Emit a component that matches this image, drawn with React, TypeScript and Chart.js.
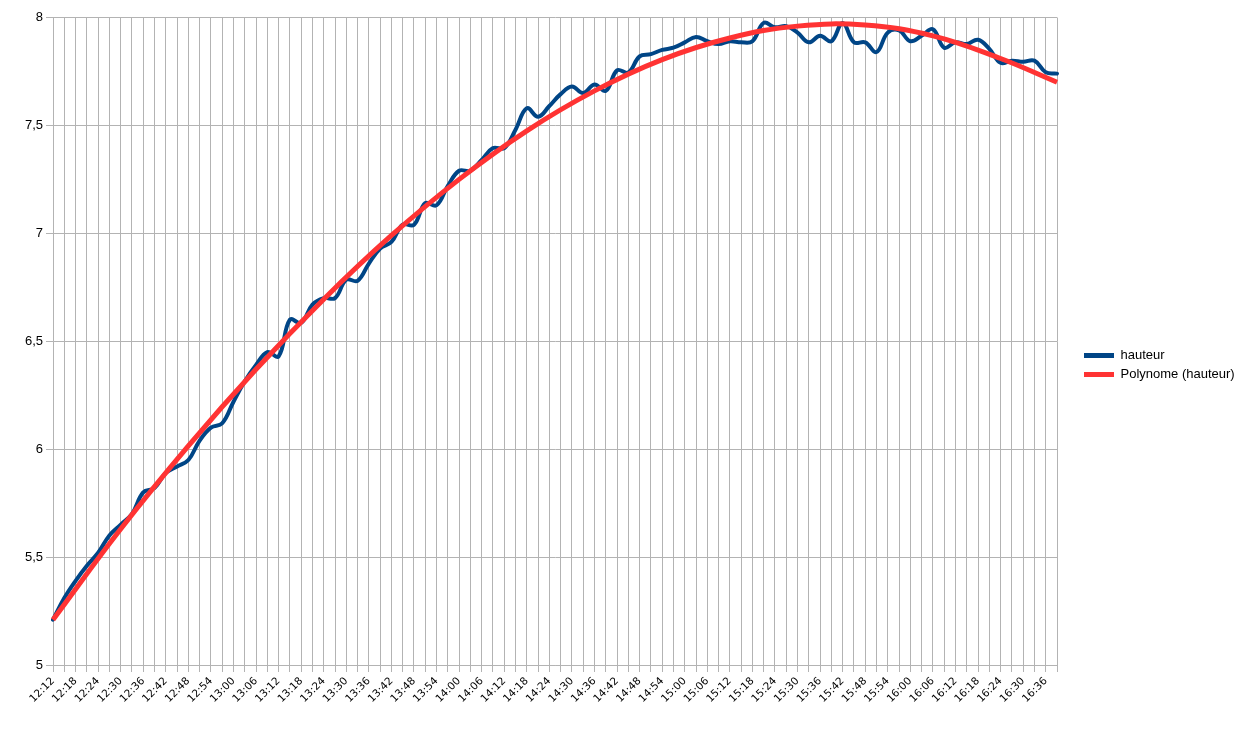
import React, { useEffect, useRef } from 'react';
import { Chart, registerables } from 'chart.js';

Chart.register(...registerables);

const times = [
  '12:12', '12:15', '12:18', '12:21', '12:24', '12:27', '12:30', '12:33', '12:36', '12:39',
  '12:42', '12:45', '12:48', '12:51', '12:54', '12:57', '13:00', '13:03', '13:06', '13:09',
  '13:12', '13:15', '13:18', '13:21', '13:24', '13:27', '13:30', '13:33', '13:36', '13:39',
  '13:42', '13:45', '13:48', '13:51', '13:54', '13:57', '14:00', '14:03', '14:06', '14:09',
  '14:12', '14:15', '14:18', '14:21', '14:24', '14:27', '14:30', '14:33', '14:36', '14:39',
  '14:42', '14:45', '14:48', '14:51', '14:54', '14:57', '15:00', '15:03', '15:06', '15:09',
  '15:12', '15:15', '15:18', '15:21', '15:24', '15:27', '15:30', '15:33', '15:36', '15:39',
  '15:42', '15:45', '15:48', '15:51', '15:54', '15:57', '16:00', '16:03', '16:06', '16:09',
  '16:12', '16:15', '16:18', '16:21', '16:24', '16:27', '16:30', '16:33', '16:36', '16:39',
];

const hauteur = [
  5.21, 5.31, 5.39, 5.46, 5.52, 5.6, 5.65, 5.7, 5.8, 5.82,
  5.89, 5.92, 5.95, 6.04, 6.1, 6.12, 6.22, 6.315, 6.39, 6.45,
  6.43, 6.6, 6.585, 6.67, 6.7, 6.7, 6.785, 6.78, 6.86, 6.93,
  6.96, 7.04, 7.04, 7.14, 7.13, 7.22, 7.29, 7.29, 7.34, 7.395,
  7.395, 7.48, 7.58, 7.54, 7.59, 7.645, 7.68, 7.65, 7.69, 7.66,
  7.755, 7.745, 7.82, 7.83, 7.85, 7.86, 7.885, 7.91, 7.89, 7.877,
  7.89, 7.885, 7.89, 7.975, 7.955, 7.96, 7.93, 7.885, 7.915, 7.89,
  7.975, 7.885, 7.885, 7.84, 7.93, 7.94, 7.89, 7.915, 7.946, 7.86,
  7.885, 7.877, 7.897, 7.855, 7.79, 7.8, 7.795, 7.8, 7.746, 7.74,
];

// Polynomial trend line, read at the labelled times
const trendTimes = [
  '12:12', '12:30', '12:48', '13:06', '13:24', '13:42', '14:00', '14:18',
  '14:36', '14:54', '15:12', '15:30', '15:48', '16:06', '16:24', '16:39',
];
const trendValues = [
  5.21, 5.63, 6.015, 6.37, 6.695, 6.99, 7.25, 7.475,
  7.66, 7.805, 7.905, 7.96, 7.965, 7.915, 7.81, 7.7,
];

const Y_MIN = 5;
const Y_MAX = 8;
const Y_STEP = 0.5;

const GRID = '#b3b3b3';
const BLUE = '#004586';
const RED = '#ff3333';

const LEGEND_WIDTH = 180;
const LEGEND_GAP = 21;

export default function App() {
  const ref = useRef<HTMLCanvasElement | null>(null);

  useEffect(() => {
    if (!ref.current) return;
    const trend = times.map((t) => {
      const k = trendTimes.indexOf(t);
      return k >= 0 ? trendValues[k] : null;
    });

    const legendPlacement = {
      id: 'legendPlacement',
      beforeLayout(chart: any) {
        const lg = chart.legend;
        if (lg && !lg.__patched) {
          const origFit = lg.fit.bind(lg);
          lg.fit = function () {
            origFit();
            this.width = LEGEND_WIDTH;
          };
          lg.__patched = true;
        }
      },
      afterLayout(chart: any) {
        const lg = chart.legend;
        if (lg) lg.left = chart.chartArea.right + LEGEND_GAP;
      },
    };

    const chart = new Chart(ref.current, {
      type: 'line',
      data: {
        labels: times,
        datasets: [
          {
            label: 'hauteur',
            data: hauteur,
            borderColor: BLUE,
            backgroundColor: BLUE,
            borderWidth: 4,
            pointRadius: 0,
            tension: 0.4,
            borderJoinStyle: 'round',
            borderCapStyle: 'round',
            order: 2,
          },
          {
            label: 'Polynome (hauteur)',
            data: trend,
            borderColor: RED,
            backgroundColor: RED,
            borderWidth: 5,
            pointRadius: 0,
            tension: 0.4,
            spanGaps: true,
            borderJoinStyle: 'round',
            order: 1,
          },
        ],
      },
      options: {
        animation: false,
        responsive: true,
        maintainAspectRatio: false,
        events: [],
        layout: { padding: 0 },
        plugins: {
          tooltip: { enabled: false },
          title: { display: false },
          legend: {
            position: 'right',
            align: 'center',
            labels: {
              boxWidth: 30,
              boxHeight: 5,
              padding: 6,
              color: '#000',
              font: { family: 'Liberation Sans', size: 13 },
              sort: (a: any, b: any) => a.datasetIndex - b.datasetIndex,
              generateLabels: (c: any) =>
                (Chart.defaults.plugins.legend.labels.generateLabels as any)(c).map((l: any) => ({
                  ...l,
                  lineWidth: 0,
                  fillStyle: l.strokeStyle,
                })),
            },
          },
        },
        scales: {
          x: {
            offset: false,
            grid: { color: GRID, lineWidth: 1, drawTicks: true, tickLength: 7 },
            border: { color: GRID },
            afterFit: (s: any) => {
              s.height = 57;
            },
            ticks: {
              autoSkip: false,
              maxRotation: 45,
              minRotation: 45,
              padding: 3,
              color: '#000',
              font: { family: 'DejaVu Sans', size: 10.5 },
              callback: function (this: any, val: any, idx: number) {
                return idx % 2 === 0 ? this.getLabelForValue(val) : '';
              },
            },
          },
          y: {
            min: Y_MIN,
            max: Y_MAX,
            grid: { color: GRID, lineWidth: 1, drawTicks: true, tickLength: 7 },
            border: { color: GRID },
            afterFit: (s: any) => {
              s.width = 45;
            },
            ticks: {
              stepSize: Y_STEP,
              padding: 3,
              color: '#000',
              font: { family: 'Liberation Sans', size: 13, lineHeight: 1 },
              callback: (v: any) => String(v).replace('.', ','),
            },
          },
        },
      },
      plugins: [legendPlacement],
    });
    return () => chart.destroy();
  }, []);

  return (
    <div style={{ position: 'relative', width: '1229px', height: '714px' }}>
      <canvas ref={ref} />
    </div>
  );
}
